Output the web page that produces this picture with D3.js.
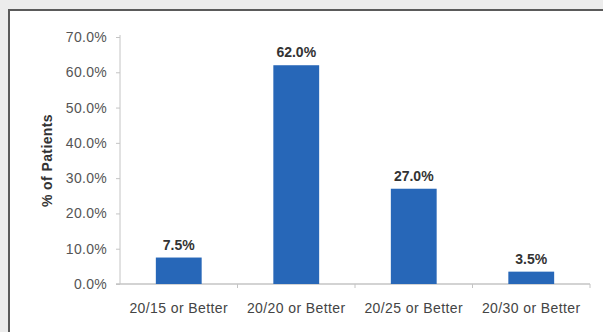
<!DOCTYPE html>
<html>
<head>
<meta charset="utf-8">
<script src="https://cdn.jsdelivr.net/npm/d3@7"></script>
<style>
  html, body { margin: 0; padding: 0; background: #ececec; }
  #chart { position: absolute; left: 8px; top: 9px; width: 600px; height: 330px;
           background: #fff; border-left: 2px solid #5a5a5a; border-top: 2px solid #5a5a5a; }
  svg { display: block; font-family: "Liberation Sans", Arial, sans-serif; }
</style>
</head>
<body>
<div id="chart"></div>
<script>
const categories = ['20/15 or Better', '20/20 or Better', '20/25 or Better', '20/30 or Better']
const values = [7.5, 62.0, 27.0, 3.5]
const yTicks = [0, 10, 20, 30, 40, 50, 60, 70]
const yTitle = '% of Patients'

const WIDTH = 603, HEIGHT = 332
// plot area in page coords, svg offset by the frame (8+2, 9+2)
const OFF = { x: 10, y: 11 }
const MARGIN = { top: 37 - OFF.y, left: 120 - OFF.x }
const W = 470, H = 247

const svg = d3.select('#chart').append('svg')
  .attr('width', WIDTH)
  .attr('height', HEIGHT)

const g = svg.append('g').attr('transform', `translate(${MARGIN.left},${MARGIN.top})`)

const x = d3.scaleBand().domain(categories).range([0, W]).paddingInner(0.61).paddingOuter(0.305)
const y = d3.scaleLinear().domain([0, 70]).range([H, 0])

// ── axes ─────────────────────────────────────────────────────
const yAxis = g.append('g').call(
  d3.axisLeft(y).tickValues(yTicks).tickSize(4).tickPadding(9).tickFormat(d => d.toFixed(1) + '%')
)
yAxis.select('.domain').attr('stroke', '#c4c4c4').attr('d', `M0,${H}V-2`)
yAxis.selectAll('.tick line').attr('stroke', '#c4c4c4')
yAxis.selectAll('text').attr('fill', '#555').style('font-size', '14px').style('letter-spacing', '0.3px')

const bounds = d3.range(categories.length + 1).map(i => i * W / categories.length)
const xAxis = g.append('g').attr('transform', `translate(0,${H})`)
xAxis.append('line')
  .attr('x1', -4).attr('x2', W).attr('y1', 0).attr('y2', 0)
  .attr('stroke', '#c4c4c4').attr('stroke-width', 1.5)
xAxis.selectAll('line.tk').data(bounds.slice(1)).enter().append('line')
  .attr('class', 'tk')
  .attr('x1', d => d).attr('x2', d => d).attr('y1', 0).attr('y2', 4)
  .attr('stroke', '#c4c4c4')
xAxis.selectAll('text').data(categories).enter().append('text')
  .attr('x', d => x(d) + x.bandwidth() / 2)
  .attr('y', 29)
  .attr('text-anchor', 'middle')
  .attr('fill', '#444')
  .style('font-size', '14px')
  .style('letter-spacing', '0.4px')
  .text(d => d)

// ── bars ─────────────────────────────────────────────────────
g.selectAll('rect.bar').data(values).enter().append('rect')
  .attr('class', 'bar')
  .attr('x', (_, i) => x(categories[i]))
  .attr('y', d => y(d))
  .attr('width', x.bandwidth())
  .attr('height', d => H - y(d))
  .attr('fill', '#2767b8')

g.selectAll('text.val').data(values).enter().append('text')
  .attr('class', 'val')
  .attr('x', (_, i) => x(categories[i]) + x.bandwidth() / 2)
  .attr('y', d => y(d) - 8)
  .attr('text-anchor', 'middle')
  .attr('fill', '#333')
  .style('font-size', '14px')
  .style('font-weight', 'bold')
  .text(d => d.toFixed(1) + '%')

// ── y title ──────────────────────────────────────────────────
g.append('text')
  .attr('transform', `translate(${47 - 120},${H / 2}) rotate(-90)`)
  .attr('text-anchor', 'middle')
  .attr('dy', '0.35em')
  .attr('fill', '#333')
  .style('font-size', '14px')
  .style('font-weight', 'bold')
  .style('letter-spacing', '0.4px')
  .text(yTitle)
</script>
</body>
</html>
